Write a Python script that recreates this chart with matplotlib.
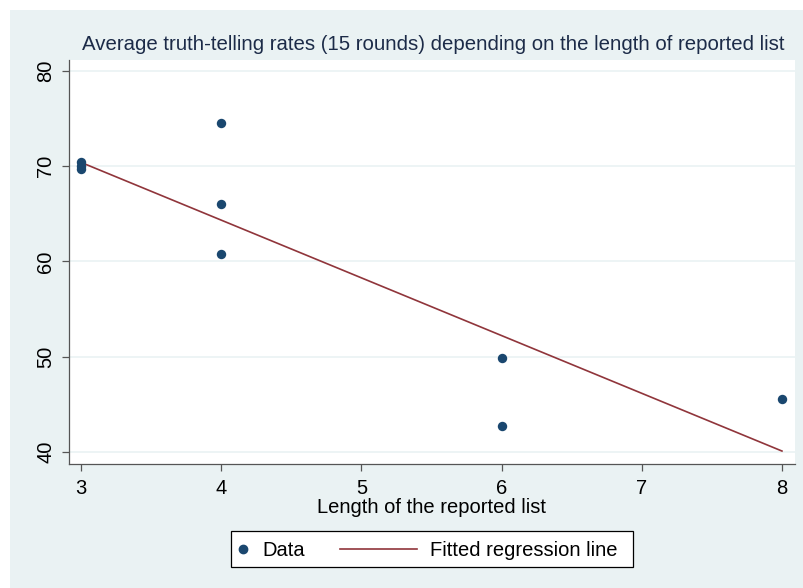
import matplotlib
matplotlib.use("Agg")
import matplotlib.pyplot as plt
from matplotlib.patches import Rectangle
from matplotlib.lines import Line2D

# Data
list_length = [3, 3, 3, 4, 4, 4, 6, 6, 8]
truth_rate = [70.4, 70.0, 69.7, 74.5, 66.0, 60.8, 49.9, 42.7, 45.6]

# Fitted regression line endpoints
fit_x = [3, 8]
fit_y = [70.4, 40.1]

x_ticks = [3, 4, 5, 6, 7, 8]
y_ticks = [40, 50, 60, 70, 80]

bg = "#eaf2f3"
dot_color = "#1a476f"
line_color = "#90353b"
W, H = 804, 588

plt.rcParams["font.family"] = ["Liberation Sans", "DejaVu Sans"]

fig = plt.figure(figsize=(W / 100, H / 100), dpi=100)
fig.patch.set_facecolor("white")
fig.add_artist(Rectangle((10 / W, 0), 1, 1 - 10 / H, transform=fig.transFigure,
                         facecolor=bg, edgecolor="none", zorder=-5))

ax = fig.add_axes([69 / W, 1 - 464 / H, (795 - 69) / W, (464 - 60) / H])
ax.set_zorder(2)
ax.set_facecolor("white")

ax.scatter(list_length, truth_rate, s=46, color=dot_color, zorder=3, linewidths=0)
ax.plot(fit_x, fit_y, color=line_color, lw=1.2, zorder=2)

ax.set_xlim(2.914, 8.093)
ax.set_ylim(38.74, 81.15)
ax.set_xticks(x_ticks)
ax.set_yticks(y_ticks)
ax.set_yticklabels([str(v) for v in y_ticks], rotation=90, va="center")
ax.tick_params(axis="both", direction="out", length=5, width=0.9, color="#555555",
               labelsize=14.5, labelcolor="black")
ax.tick_params(axis="y", pad=5)
ax.tick_params(axis="x", pad=6)
ax.grid(axis="y", color=bg, lw=1.2, zorder=1)
ax.set_axisbelow(True)

for side in ["top", "right"]:
    ax.spines[side].set_visible(False)
for side in ["left", "bottom"]:
    ax.spines[side].set_color("#555555")
    ax.spines[side].set_linewidth(0.9)

ax.set_xlabel("Length of the reported list", fontsize=14.5, labelpad=0)
fig.text(433 / W, 1 - 44 / H, "Average truth-telling rates (15 rounds) depending on the length of reported list",
         ha="center", va="center", fontsize=14.7, color="#1c2b48")

# Legend drawn as a box with keys, in figure pixels
def fx(px):
    return px / W

def fy(py):
    return 1 - py / H

fig.add_artist(Rectangle((fx(231), fy(567)), fx(633) - fx(231), fy(531) - fy(567),
                         transform=fig.transFigure, facecolor="white", edgecolor="black",
                         lw=0.9, zorder=3))
fig.add_artist(Line2D([fx(243)], [fy(549)], marker="o", ls="none", color=dot_color,
                      markersize=6, transform=fig.transFigure, zorder=4))
fig.text(fx(262), fy(550), "Data", ha="left", va="center", fontsize=14.5, zorder=4)
fig.add_artist(Line2D([fx(340), fx(417)], [fy(549), fy(549)], color=line_color, lw=1.2,
                      transform=fig.transFigure, zorder=4))
fig.text(fx(430), fy(550), "Fitted regression line", ha="left", va="center", fontsize=14.5, zorder=4)

fig.savefig("out.png", dpi=100, facecolor=fig.get_facecolor())
